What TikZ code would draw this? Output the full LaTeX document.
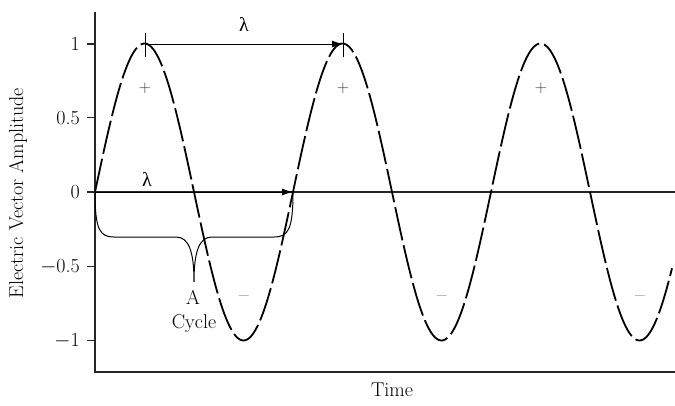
\documentclass[tikz,border=0pt]{standalone}
\usepackage{fontspec}
\newfontfamily\greekfont{Liberation Serif}
\usetikzlibrary{arrows.meta}
\begin{document}
\begin{tikzpicture}[x=1pt,y=-1pt,
  axis/.style={line width=1.1pt,black!85},
  wave/.style={line width=1.8pt,dash pattern=on 34pt off 5pt},
  lbl/.style={font=\fontsize{20}{22}\selectfont,inner sep=0pt},
  sign/.style={font=\fontsize{17}{19}\selectfont,inner sep=0pt,black!80},
  msign/.style={font=\fontsize{21}{23}\selectfont,inner sep=0pt,black!80},
  arr/.style={line width=1pt,-{Latex[length=11pt,width=7pt]}},
  brace/.style={line width=1pt}]
\useasboundingbox (0,0) rectangle (675,405);
% axes
\coordinate (ytop) at (95,12);
\coordinate (orig) at (95,372);
\coordinate (xend) at (675,372);
\coordinate (z0) at (95,192);
\coordinate (zend) at (675,192);
\draw[axis] (ytop) -- (orig) -- (xend);
\draw[axis] (z0) -- (zend);
% ticks and labels
\foreach \v/\y/\t [count=\i] in {1/44/1,0.5/117.75/0.5,0/192/0,-0.5/266.25/$-$0.5,-1/340.5/$-$1}{
  \coordinate (tk\i) at (87,\y);
  \coordinate (ta\i) at (95,\y);
  \draw[axis] (tk\i) -- (ta\i);
  \node[lbl,anchor=east] (tl\i) at (80,\y) {\t};
}
\node[lbl,rotate=90] (ylab) at (18,193) {Electric Vector Amplitude};
\node[lbl] (xlab) at (392,390) {Time};
% wave
\draw[wave] plot[domain=95:672,samples=300,smooth] (\x,{192-148.5*sin((\x-95)/198*360)});
% peak markers
\coordinate (p1) at (145,44);
\coordinate (p2) at (343,44);
\coordinate (p1t) at (145,33);
\coordinate (p1b) at (145,57);
\coordinate (p2t) at (343,33);
\coordinate (p2b) at (343,57);
\draw[line width=1pt] (p1t) -- (p1b);
\draw[line width=1pt] (p2t) -- (p2b);
\draw[arr] (p1) -- (p2);
\node[lbl] (lam1) at (244,24) {\greekfont λ};
% zero line arrow
\coordinate (z1) at (293,192);
\draw[arr] (z0) -- (z1);
\node[lbl] (lam2) at (147,179) {\greekfont λ};
% brace
\coordinate (cusp) at (194,282);
\draw[brace] (z0) .. controls (95,230) and (100,237) .. (114,237) -- (176,237)
  .. controls (189,237) and (194,252) .. (cusp)
  .. controls (194,252) and (199,237) .. (212,237) -- (274,237)
  .. controls (288,237) and (293,230) .. (z1);
\node[lbl] (a) at (193,297) {A};
\node[lbl] (cyc) at (194,324) {Cycle};
% signs
\node[sign] (s1) at (145,88) {+};
\node[sign] (s2) at (343,88) {+};
\node[sign] (s3) at (541,88) {+};
\node[msign] (m1) at (244,299) {\textendash};
\node[msign] (m2) at (442,299) {\textendash};
\node[msign] (m3) at (640,299) {\textendash};
\end{tikzpicture}
\end{document}
